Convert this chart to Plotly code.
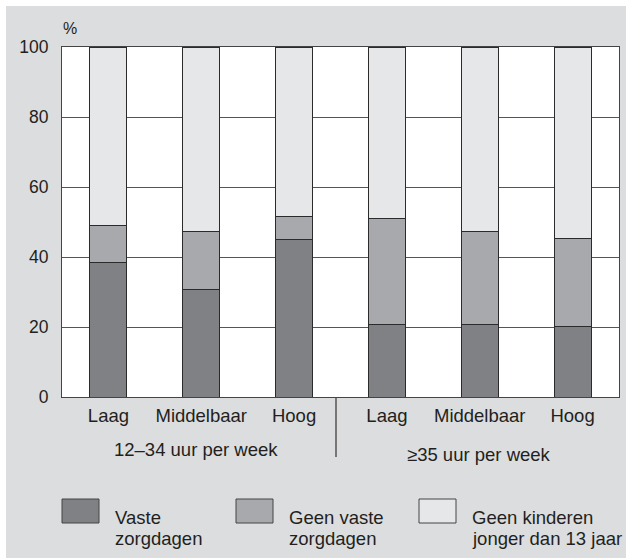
import plotly.graph_objects as go

# ---- data ----
categories = ["Laag", "Middelbaar", "Hoog", "Laag", "Middelbaar", "Hoog"]
groups = ["12–34 uur per week", "≥35 uur per week"]
vaste = [38.4, 30.7, 45.0, 20.8, 20.7, 20.1]
geen_vaste = [10.6, 16.6, 6.7, 30.1, 26.6, 25.1]
geen_kinderen = [51.0, 52.7, 48.3, 49.1, 52.7, 54.8]
series_names = ["Vaste<br>zorgdagen", "Geen vaste<br>zorgdagen", "Geen kinderen<br>jonger dan 13 jaar"]
y_ticks = [0, 20, 40, 60, 80, 100]

colors = ["#808185", "#a8a9ac", "#e6e7e9"]
edge = "#2b2b2b"
txt = "#231f20"
bg = "#dcdddf"
FONT = "Liberation Sans, Arial, sans-serif"

W, H = 626, 558
L, R, T, B = 62, 7, 47, 161
PW, PH = W - L - R, H - T - B


def px(xs_):
    """screen x pixel -> paper coordinate"""
    return (xs_ - L) / PW


def py(ys_):
    """screen y pixel -> paper coordinate"""
    return (H - B - ys_) / PH


xs = list(range(len(categories)))
fig = go.Figure()
for vals, name, col in zip([vaste, geen_vaste, geen_kinderen], series_names, colors):
    fig.add_trace(go.Bar(
        x=xs, y=vals, name=name.replace("<br>", " "), width=0.4,
        marker=dict(color=col, line=dict(color=edge, width=1)),
        showlegend=False,
    ))

shapes = [
    # white outer strips (top and left)
    dict(type="rect", xref="paper", yref="paper", x0=px(0), x1=px(W), y0=py(0), y1=py(6),
         fillcolor="white", line=dict(width=0), layer="below"),
    dict(type="rect", xref="paper", yref="paper", x0=px(0), x1=px(6), y0=py(0), y1=py(H),
         fillcolor="white", line=dict(width=0), layer="below"),
    # group divider
    dict(type="line", xref="paper", yref="paper", x0=px(336), x1=px(336), y0=py(398), y1=py(457),
         line=dict(color="#333", width=1.2)),
]

annotations = [
    dict(text="%", xref="paper", yref="paper", x=px(61), y=py(28), xanchor="left", yanchor="middle",
         showarrow=False, font=dict(size=16, color=txt, family=FONT)),
    dict(text=groups[0], xref="paper", yref="paper", x=px(195.8), y=py(449.5), xanchor="center",
         yanchor="middle", showarrow=False, font=dict(size=18.5, color=txt, family=FONT)),
    dict(text=groups[1], xref="paper", yref="paper", x=px(478.7), y=py(454.5), xanchor="center",
         yanchor="middle", showarrow=False, font=dict(size=18.5, color=txt, family=FONT)),
]

# legend (custom)
sw_x = [62, 236, 419]
tx_x = [113, 287, 470]
line_y = [517, 538]
for sx, tx, name, col in zip(sw_x, tx_x, series_names, colors):
    shapes.append(dict(type="rect", xref="paper", yref="paper", x0=px(sx), x1=px(sx + 37),
                       y0=py(523), y1=py(499), fillcolor=col, line=dict(color="#444", width=1)))
    for ln, ly in zip(name.split("<br>"), line_y):
        annotations.append(dict(text=ln, xref="paper", yref="paper", x=px(tx), y=py(ly),
                                xanchor="left", yanchor="middle", align="left", showarrow=False,
                                font=dict(size=18.5, color=txt, family=FONT)))

fig.update_layout(
    width=W, height=H,
    margin=dict(l=L, r=R, t=T, b=B, pad=0),
    barmode="stack",
    paper_bgcolor=bg, plot_bgcolor="white",
    font=dict(family=FONT, color=txt, size=18),
    shapes=shapes, annotations=annotations,
    showlegend=False,
)
fig.update_xaxes(
    range=[-0.5, 5.5], tickvals=xs, ticktext=categories,
    showgrid=False, zeroline=False,
    showline=True, mirror=True, linecolor="#444", linewidth=1.2,
    ticks="outside", ticklen=2, tickcolor="rgba(0,0,0,0)",
    tickfont=dict(size=18.5, color=txt, family=FONT),
)
fig.update_yaxes(
    range=[0, 100], tickvals=y_ticks,
    showgrid=True, gridcolor="#555", gridwidth=1, zeroline=False,
    showline=True, mirror=True, linecolor="#444", linewidth=1.2,
    ticks="outside", ticklen=9, tickcolor="rgba(0,0,0,0)",
    tickfont=dict(size=17.5, color=txt, family=FONT),
)

fig.write_html(
    "out.html",
    config={"displayModeBar": False},
    post_script="document.body.style.margin='0px';document.body.style.overflow='hidden';",
)
